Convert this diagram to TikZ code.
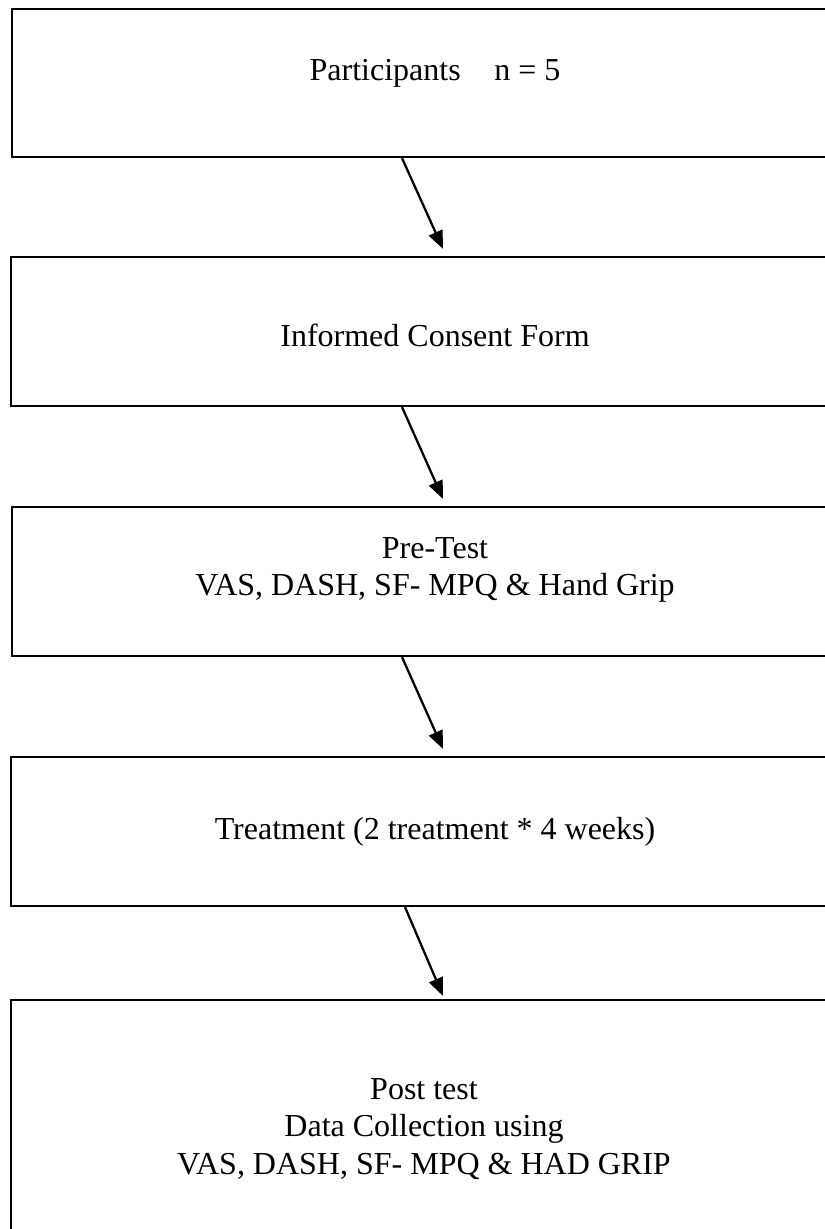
\documentclass[tikz,border=0pt]{standalone}
\usepackage{fontspec}
\setmainfont{Liberation Serif}
\usetikzlibrary{arrows.meta, calc}
\tikzstyle{stage} = [rectangle, draw=black, line width=1.6pt, minimum width=634.5pt, inner sep=0pt]
\tikzstyle{lbl} = [align=center, font=\fontsize{24}{28.2}\selectfont]
\tikzstyle{arrow} = [line width=1.7pt, -{Triangle[length=13.5pt, width=11pt]}]
\begin{document}
\begin{tikzpicture}[x=0.75pt, y=-0.75pt]
    \clip (0,0) rectangle (825,1229);
    % Stages
    \node[stage, minimum height=111pt] (p1) at (435,83) {};
    \node[stage, minimum height=111.75pt] (p2) at (434,331.5) {};
    \node[stage, minimum height=111.75pt] (p3) at (435,581.5) {};
    \node[stage, minimum height=111.75pt] (p4) at (434,831.5) {};
    \node[stage, minimum height=191.25pt] (p5) at (434,1127.5) {};

    % Labels
    \node[lbl] (t1) at (435,73) {Participants\hspace{0.8em} n = 5};
    \node[lbl] (t2) at (435,335) {Informed Consent Form};
    \node[lbl] (t3) at (435,570) {Pre-Test\\VAS, DASH, SF- MPQ \& Hand Grip};
    \node[lbl] (t4) at (435,832) {Treatment (2 treatment * 4 weeks)};
    \node[lbl] (t5) at (424,1129) {Post test\\Data Collection using\\VAS, DASH, SF- MPQ \& HAD GRIP};

    % Arrows
    \draw[arrow] ($(p1.south)+(-33,0)$) -- ($(p2.north)+(9,-7)$);
    \draw[arrow] ($(p2.south)+(-32,0)$) -- ($(p3.north)+(8,-7)$);
    \draw[arrow] ($(p3.south)+(-33,0)$) -- ($(p4.north)+(9,-7)$);
    \draw[arrow] ($(p4.south)+(-29,0)$) -- ($(p5.north)+(9,-3)$);
\end{tikzpicture}
\end{document}
